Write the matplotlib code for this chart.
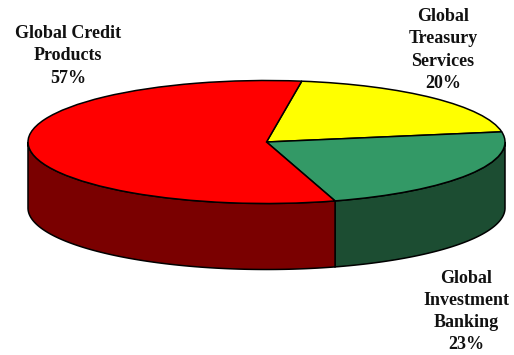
import numpy as np
import matplotlib
matplotlib.use('Agg')
import matplotlib.pyplot as plt

labels = ['Global\nTreasury\nServices\n20%', 'Global\nInvestment\nBanking\n23%', 'Global Credit\nProducts\n57%']
shares = [20, 23, 57]
top_colors = ['#ffff00', '#339966', '#ff0000']
side_colors = ['#808000', '#1c4d32', '#7a0000']
label_px = [(443, 50), (466, 311.5), (68, 56)]

W, H = 514, 355
cx, cy = 266.5, 142      # pie centre, pixels
a, b = 238.5, 61.5       # ellipse radii
depth = 66 / b
start = 81.5

fig = plt.figure(figsize=(W / 100, H / 100), dpi=100)
ax = fig.add_axes([0, 0, 1, 1])

# side walls first, only the front half of the rim shows
ang = start
for v, col in zip(shares, side_colors):
    a0 = ang - v * 3.6
    lo, hi = max(a0, -180), min(ang, 0)
    if hi > lo:
        t = np.radians(np.linspace(lo, hi, 200))
        x = np.cos(t)
        y = np.sin(t)
        ax.fill(np.r_[x, x[::-1]], np.r_[y, y[::-1] - depth], fc=col, ec='black', lw=1.1, zorder=1)
    ang = a0

ax.pie(shares, colors=top_colors, startangle=start, counterclock=False, radius=1,
       wedgeprops={'edgecolor': 'black', 'linewidth': 1.1})
for t in ax.patches:
    t.set_zorder(2)

# pie() forces a round axes, undo that to get the tilted look
ax.set_aspect('auto')
ax.set_xlim((0 - cx) / a, (W - cx) / a)
ax.set_ylim((cy - H) / b, (cy - 0) / b)

for s, (px, py) in zip(labels, label_px):
    ax.text((px - cx) / a, (cy - py) / b, s, ha='center', va='center', family='Liberation Serif',
            fontweight='bold', fontsize=13, linespacing=1.4, color='#111111')

fig.savefig('out.png', dpi=100)
